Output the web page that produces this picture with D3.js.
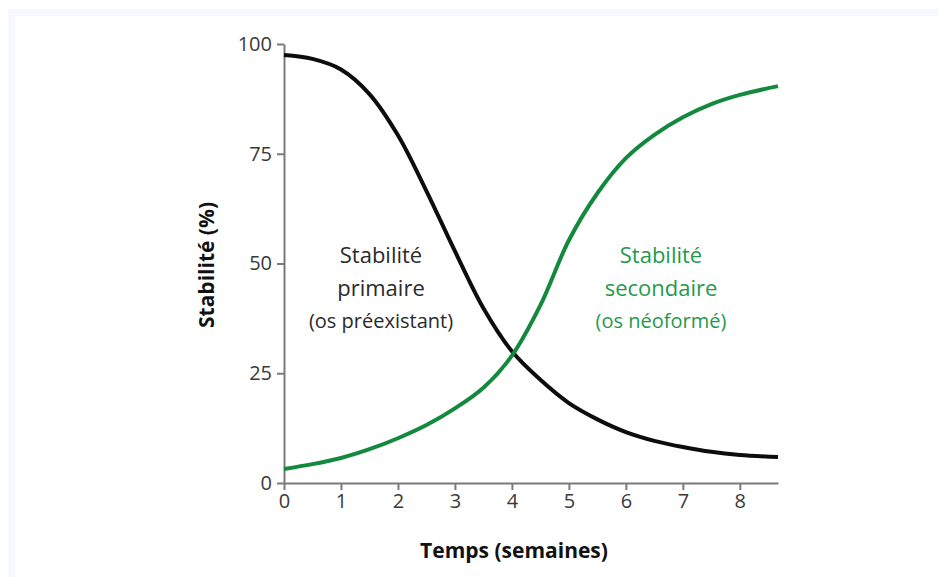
<!DOCTYPE html>
<html>
<head>
<meta charset="utf-8">
<script src="https://cdn.jsdelivr.net/npm/d3@7"></script>
<style>
  body { margin: 0; background: #fff; }
  svg text { font-family: "Open Sans", "Noto Sans", sans-serif; }
</style>
</head>
<body>
<svg id="chart" width="939" height="577"></svg>
<script>
// Data
const weeks      = [0, 0.5, 1, 1.5, 2, 2.5, 3, 3.5, 4, 4.5, 5, 5.5, 6, 6.5, 7, 7.5, 8, 8.67];
const primaire   = [97.5, 96.6, 94.2, 88.6, 79.2, 66.5, 52.8, 39.8, 30, 23.5, 18.2, 14.5, 11.6, 9.6, 8.2, 7.1, 6.4, 5.9];
const secondaire = [3.2, 4.3, 5.7, 7.7, 10.2, 13.2, 17, 21.7, 29, 40.5, 55.3, 66, 74, 79.3, 83.3, 86.3, 88.4, 90.4];
const xTicks = [0, 1, 2, 3, 4, 5, 6, 7, 8];
const yTicks = [0, 25, 50, 75, 100];

const svg = d3.select('#chart');

// faint frame of the source scan
svg.append('rect').attr('x', 8).attr('y', 9).attr('width', 931).attr('height', 7).attr('fill', '#f7f8fd');
svg.append('rect').attr('x', 8).attr('y', 9).attr('width', 7).attr('height', 568).attr('fill', '#f7f8fd');

const x = d3.scaleLinear().domain([0, 8.67]).range([284, 778]);
const y = d3.scaleLinear().domain([0, 100]).range([483, 44]);

const axisColor = '#7a7a7a';

// x axis
const gx = svg.append('g')
    .attr('transform', 'translate(0,483)')
    .call(d3.axisBottom(x).tickValues(xTicks).tickSize(7).tickPadding(4).tickSizeOuter(0));
gx.select('.domain').attr('stroke', axisColor).attr('stroke-width', 2);
gx.selectAll('.tick line').attr('stroke', axisColor).attr('stroke-width', 2);
gx.selectAll('.tick text').attr('fill', '#3a3a3a').style('font-size', '20px');

// y axis
const gy = svg.append('g')
    .attr('transform', 'translate(284,0)')
    .call(d3.axisLeft(y).tickValues(yTicks).tickSize(7).tickPadding(5).tickSizeOuter(0));
gy.select('.domain').attr('stroke', axisColor).attr('stroke-width', 2);
gy.selectAll('.tick line').attr('stroke', axisColor).attr('stroke-width', 2);
gy.selectAll('.tick text').attr('fill', '#3a3a3a').style('font-size', '20px');

// axis titles
svg.append('text')
    .attr('x', 514).attr('y', 558)
    .attr('text-anchor', 'middle')
    .style('font-size', '21px').style('font-weight', 'bold')
    .attr('fill', '#111')
    .text('Temps (semaines)');

svg.append('text')
    .attr('transform', 'translate(214,265) rotate(-90)')
    .attr('text-anchor', 'middle')
    .style('font-size', '21px').style('font-weight', 'bold')
    .attr('fill', '#111')
    .text('Stabilité (%)');

// curves
const line = d3.line()
    .x(d => x(d[0]))
    .y(d => y(d[1]))
    .curve(d3.curveCatmullRom.alpha(0.5));

svg.append('path')
    .datum(weeks.map((w, i) => [w, primaire[i]]))
    .attr('d', line)
    .attr('fill', 'none')
    .attr('stroke', '#0d0d0d')
    .attr('stroke-width', 4);

svg.append('path')
    .datum(weeks.map((w, i) => [w, secondaire[i]]))
    .attr('d', line)
    .attr('fill', 'none')
    .attr('stroke', '#12893d')
    .attr('stroke-width', 4);

// annotations
function label(cx, lines, color) {
    const t = svg.append('text').attr('text-anchor', 'middle').attr('fill', color);
    lines.forEach((s, i) => {
        t.append('tspan')
            .attr('x', cx)
            .attr('y', [263, 296, 328][i])
            .style('font-size', i < 2 ? '22px' : '20px')
            .text(s);
    });
}
label(381, ['Stabilité', 'primaire', '(os préexistant)'], '#2a2a2a');
label(661, ['Stabilité', 'secondaire', '(os néoformé)'], '#1f9a4b');
</script>
</body>
</html>
